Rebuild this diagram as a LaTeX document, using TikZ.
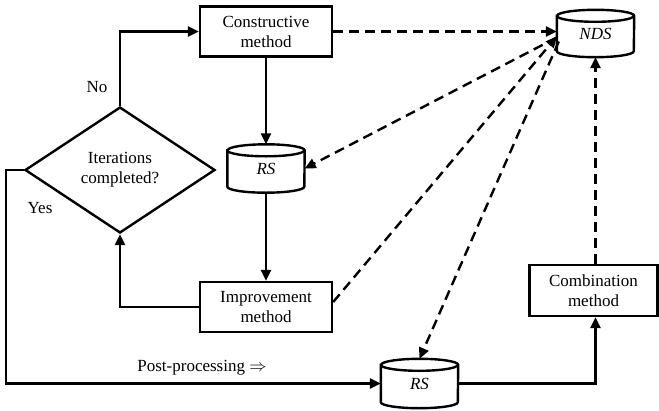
\documentclass[tikz,border=0pt]{standalone}
\usepackage{fontspec}
\setmainfont{Liberation Serif}
\newfontfamily\tnr{Liberation Serif}
\usetikzlibrary{arrows.meta,shapes.geometric}
\newcommand\drawcyl[1]{%
  \draw[line width=2.4pt] ([yshift=-6pt]#1.north west) -- ([yshift=6pt]#1.south west)
    arc[start angle=180,end angle=360,x radius=38.5pt,y radius=6pt]
    -- ([yshift=-6pt]#1.north east)
    arc[start angle=0,end angle=180,x radius=38.5pt,y radius=6pt] -- cycle;
  \draw[line width=2.4pt] ([yshift=-6pt]#1.north west)
    arc[start angle=180,end angle=360,x radius=38.5pt,y radius=6pt];}
\begin{document}
\begin{tikzpicture}[x=1pt,y=-1pt,
  every node/.style={font=\tnr\fontsize{17}{20}\selectfont},
  box/.style={draw, line width=2.4pt, minimum width=132pt, minimum height=50pt, align=center, inner sep=0pt},
  cyl/.style={minimum width=77pt, minimum height=48pt, inner sep=0pt, font=\tnr\fontsize{17}{20}\selectfont\itshape},
  dec/.style={draw, diamond, line width=2.4pt, minimum width=190pt, minimum height=126pt, aspect=1.5, align=center, inner sep=0pt},
  flow/.style={line width=2.4pt, -{Triangle[length=11pt,width=10pt]}},
  dflow/.style={flow, dash pattern=on 10pt off 6pt},
]
\useasboundingbox (0,0) rectangle (659,410);
\node[box] (cons) at (266,31.5) {Constructive\\method};
\node[cyl] (rs1) at (266,168.5) {\raisebox{-6pt}{RS}};
\node[box] (imp) at (266,307) {Improvement\\method};
\node[dec] (dia) at (120,170) {Iterations\\completed?};
\node[cyl, minimum height=47pt] (nds) at (595.5,33.5) {\raisebox{-6pt}{NDS}};
\node[cyl, minimum height=49pt] (rs2) at (419.5,383.5) {\raisebox{-6pt}{RS}};
\node[box, minimum width=128pt, minimum height=51pt] (comb) at (593.5,290.5) {Combination\\method};
\drawcyl{rs1}
\drawcyl{nds}
\drawcyl{rs2}
\node (no) at (97,87) {No};
\node (yes) at (40,208) {Yes};
\node (post) at (202,368) {Post-processing $\Rightarrow$};
\draw[flow] (dia.north) |- (cons.west);
\draw[flow] (dia.west) -- ++(-18,0) |- (rs2.west);
\draw[flow] (cons) -- (rs1);
\draw[flow] (rs1) -- (imp);
\draw[flow] (imp.west) -| (dia.south);
\draw[flow] (rs2.east) -| (comb.south -| nds.south);
\draw[dflow] (nds.south |- comb.north) -- (nds.south);
\draw[dflow] (cons.east) -- (cons.east -| nds.west);
\draw[dflow] ([yshift=5pt]imp.east) -- ([yshift=-3pt]nds.west);
\draw[dflow] ([yshift=-4pt]nds.west) -- (rs1.east);
\draw[dflow] ([yshift=-8pt,xshift=2pt]nds.west) -- (rs2.north);
\end{tikzpicture}
\end{document}
